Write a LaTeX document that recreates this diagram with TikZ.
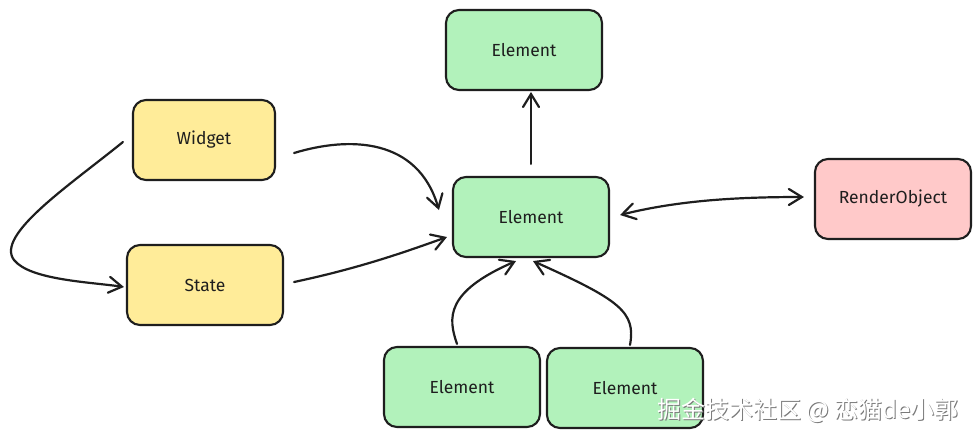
\documentclass[tikz,border=0pt]{standalone}
\usepackage{fontspec}
\setmainfont{Fira Sans}
\newfontfamily\cjkfont{Noto Sans CJK SC}
\usetikzlibrary{arrows.meta,calc}
\definecolor{strokec}{HTML}{1E1E1E}
\definecolor{yellowf}{HTML}{FFEC99}
\definecolor{greenf}{HTML}{B2F2BB}
\definecolor{pinkf}{HTML}{FFC9C9}
\definecolor{wmgray}{HTML}{7A7A7A}
\tikzset{
  box/.style={draw=strokec, line width=2.1pt, rounded corners=13pt, minimum width=156pt, minimum height=80pt, font=\fontsize{17.5}{19}\selectfont, text=strokec, inner sep=0pt},
  ybox/.style={box, fill=yellowf},
  gbox/.style={box, fill=greenf},
  pbox/.style={box, fill=pinkf},
  arr/.style={draw=strokec, line width=2.2pt, line cap=round, -{Straight Barb[length=13pt,width=16pt,line cap=round]}},
  darr/.style={draw=strokec, line width=2.2pt, line cap=round, {Straight Barb[length=13pt,width=16pt,line cap=round]}-{Straight Barb[length=13pt,width=16pt,line cap=round]}},
  wmark/.style={font=\cjkfont\fontsize{24}{26}\selectfont},
}
\begin{document}
\begin{tikzpicture}[x=1pt,y=-1pt]
\useasboundingbox (0,0) rectangle (980,440);
\fill[white] (0,0) rectangle (980,440);
% nodes
\node[gbox] (t) at (524,50) {Element};
\node[ybox, minimum width=142pt] (w) at (204,140) {Widget};
\node[ybox] (s) at (205,285) {State};
\node[gbox] (e) at (531,217) {Element};
\node[pbox] (r) at (893,199) {RenderObject};
\node[gbox] (bl) at (462,387) {Element};
\node[gbox] (br) at (625,388) {Element};
% connectors
\draw[arr] ($(w.east)+(18,13)$) .. controls (350,136) and (418,138) .. ($(e.west)+(-13,-7)$);
\draw[arr] ($(s.east)+(10,-3)$) .. controls (360,268) and (405,252) .. ($(e.west)+(-5,20)$);
\draw[arr] ($(w.west)+(-9,2)$) .. controls (70,185) and (-5,235) .. (14,260) .. controls (30,280) and (90,282) .. ($(s.west)+(-2,2)$);
\draw[arr] ($(e.north)+(0,-12)$) -- ($(e.north)+(0,-84)$);
\draw[darr] ($(e.east)+(10,-2)$) .. controls (680,200) and (740,197) .. ($(r.west)+(-10,-2)$);
\draw[arr] ($(bl.north)+(-5,-2)$) .. controls (448,318) and (445,292) .. ($(e.south)+(-15,3)$);
\draw[arr] ($(br.north)+(5,-2)$) .. controls (636,312) and (620,300) .. ($(e.south)+(2,3)$);
% watermark
\node[wmark, text=wmgray] (wm0) at (809,411) {掘金技术社区 @ 恋猫de小郭};
\node[wmark, text=white] (wm) at (808,410) {掘金技术社区 @ 恋猫de小郭};
\end{tikzpicture}
\end{document}
